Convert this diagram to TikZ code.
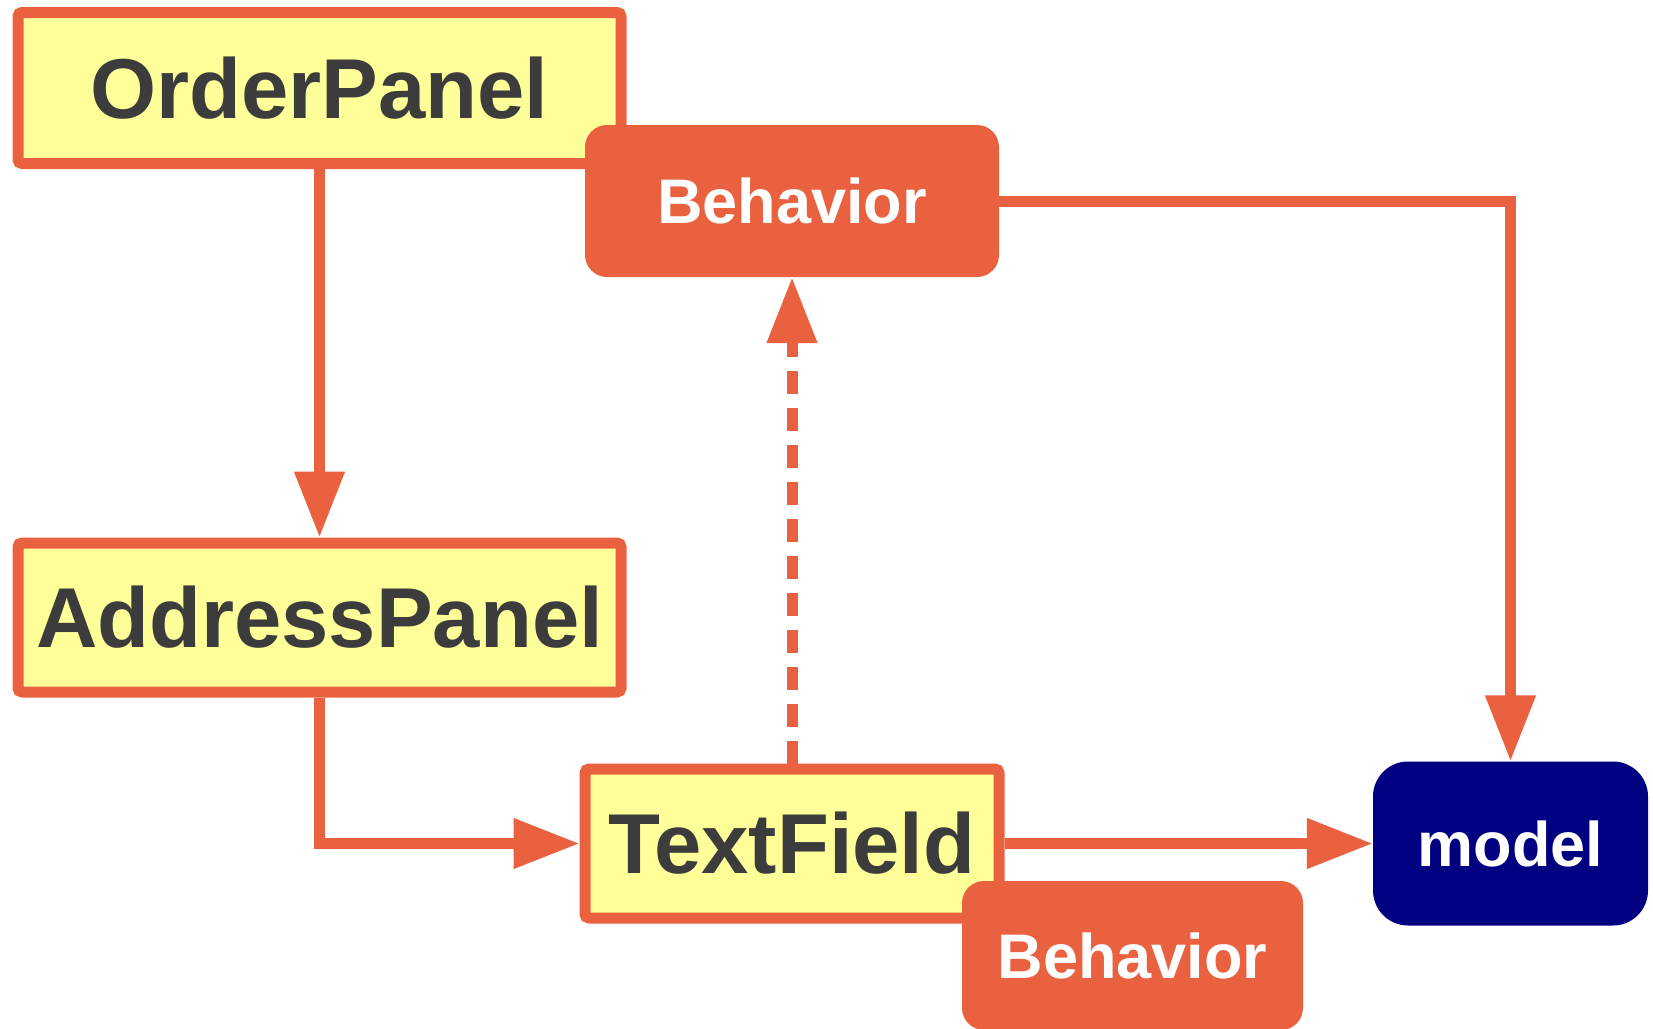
\documentclass[tikz,border=0pt]{standalone}
\usepackage{fontspec}
\setmainfont{Liberation Sans}
\usetikzlibrary{arrows.meta}
\definecolor{orng}{RGB}{234,97,64}
\definecolor{pale}{RGB}{255,255,153}
\definecolor{ink}{RGB}{60,60,60}
\definecolor{navy}{RGB}{0,0,128}
\begin{document}
\begin{tikzpicture}[x=1pt, y=-1pt, line cap=butt,
	panel/.style={draw=orng, fill=pale, line width=11pt, rounded corners=4pt, inner sep=0pt,
		text=ink, font=\fontsize{85}{85}\selectfont\bfseries},
	behav/.style={fill=orng, rounded corners=22pt, inner sep=0pt, minimum width=414pt,
		minimum height=152pt, text=white, font=\fontsize{63}{63}\selectfont\bfseries},
	link/.style={draw=orng, line width=11pt, line join=miter, -{Triangle[width=48pt,length=66pt]}}]
	\useasboundingbox (0,0) rectangle (1653,1028);

	\node[panel, minimum width=603pt, minimum height=151pt] (order) at (319.5,88) {OrderPanel};
	\node[behav] (beh1) at (792,201) {Behavior};
	\node[panel, minimum width=603pt, minimum height=149pt] (address) at (319.5,617.5) {AddressPanel};
	\node[panel, minimum width=414pt, minimum height=149pt] (field) at (792,843.5) {TextField};
	\node[behav, minimum width=341pt, minimum height=149pt] (beh2) at (1132.5,955.5) {Behavior};
	\node[fill=navy, rounded corners=35pt, minimum width=275pt, minimum height=164pt, text=white,
		font=\fontsize{63}{63}\selectfont\bfseries] (model) at (1510.5,843.5) {model};

	\draw[link] (order) -- (address);
	\draw[link] (address.south) |- (field.west);
	\draw[link, dash pattern=on 23pt off 14pt] (field.north) -- (beh1.south);
	\draw[link] (beh1.east) -| (model.north);
	\draw[link] (field.east) -- (model.west);
\end{tikzpicture}
\end{document}
